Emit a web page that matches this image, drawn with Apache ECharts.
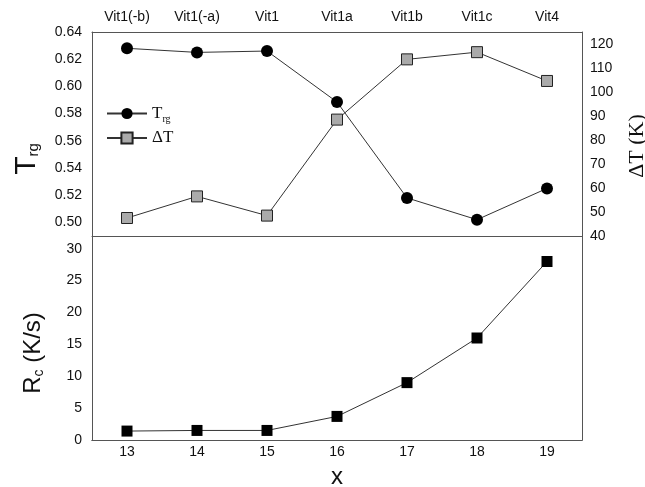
<!DOCTYPE html>
<html>
<head>
<meta charset="utf-8">
<script src="https://cdn.jsdelivr.net/npm/echarts@6/dist/echarts.min.js"></script>
<style>
  html, body { margin: 0; padding: 0; background: #fff; }
  #chart { width: 645px; height: 487px; }
</style>
</head>
<body>
<div id="chart"></div>
<script>
// categories and values
var xValues = ['13', '14', '15', '16', '17', '18', '19'];
var alloyNames = ['Vit1(-b)', 'Vit1(-a)', 'Vit1', 'Vit1a', 'Vit1b', 'Vit1c', 'Vit4'];
var trg = [0.628, 0.625, 0.626, 0.5885, 0.518, 0.502, 0.525];
var deltaT = [47.5, 56.5, 48.5, 88.5, 113.6, 116.6, 104.6];
var rc = [1.4, 1.5, 1.5, 3.7, 9.0, 16.0, 28.0];

var sans = 'Liberation Sans, Arial, sans-serif';
var serif = 'Liberation Serif, Times New Roman, serif';
var axisCol = '#555';
var lineCol = '#333';

function axisLine() { return { show: true, lineStyle: { color: axisCol, width: 1 } }; }

var chart = echarts.init(document.getElementById('chart'));
var option = {
  backgroundColor: '#fff',
  animation: false,
  grid: [
    { left: 92, right: 63, top: 32, height: 204, outerBoundsMode: 'none' },
    { left: 92, right: 63, top: 236, height: 204, outerBoundsMode: 'none' }
  ],
  legend: {
    left: 106, top: 105, orient: 'vertical', padding: 0,
    itemWidth: 40, itemHeight: 14, itemGap: 5,
    data: ['Trg', 'dT'],
    formatter: function (n) { return n === 'Trg' ? '{t|T}{s|rg}' : '{t|ΔT}'; },
    textStyle: {
      fontFamily: serif, color: '#111',
      rich: {
        t: { fontFamily: serif, fontSize: 17, color: '#111' },
        s: { fontFamily: serif, fontSize: 10, color: '#111', padding: [12, 0, 0, 0] }
      }
    }
  },
  xAxis: [
    { gridIndex: 0, type: 'category', data: xValues, position: 'bottom',
      axisLine: axisLine(), axisLabel: { show: false },
      axisTick: { inside: true, alignWithLabel: true, length: 4, lineStyle: { color: axisCol } } },
    { gridIndex: 0, type: 'category', data: alloyNames, position: 'top',
      axisLine: axisLine(),
      axisLabel: { fontFamily: sans, fontSize: 14, color: '#111', margin: 8 },
      axisTick: { alignWithLabel: true, length: 4, lineStyle: { color: axisCol } } },
    { gridIndex: 1, type: 'category', data: xValues, position: 'bottom',
      axisLine: axisLine(),
      axisLabel: { fontFamily: sans, fontSize: 14, color: '#111', margin: 5 },
      axisTick: { alignWithLabel: true, length: 4, lineStyle: { color: axisCol } },
      name: 'x', nameLocation: 'middle', nameGap: 25,
      nameTextStyle: { fontFamily: sans, fontSize: 24, color: '#111' } },
    { gridIndex: 1, type: 'category', data: xValues, position: 'top',
      axisLine: axisLine(), axisLabel: { show: false },
      axisTick: { inside: true, alignWithLabel: true, length: 4, lineStyle: { color: axisCol } } }
  ],
  yAxis: [
    { gridIndex: 0, type: 'value', position: 'left', min: 0.49, max: 0.64, interval: 0.01,
      axisLine: axisLine(), splitLine: { show: false },
      axisTick: { length: 4, lineStyle: { color: axisCol } },
      axisLabel: { fontFamily: sans, fontSize: 14, color: '#111', margin: 10,
        formatter: function (v) { return Math.round(v * 100) % 2 === 0 ? v.toFixed(2) : ''; } },
      name: '{t|T}{s|rg}', nameLocation: 'middle', nameRotate: 90, nameGap: 50,
      nameTextStyle: { padding: [0, 50, 0, 0],
        rich: { t: { fontFamily: sans, fontSize: 30, color: '#111' },
                s: { fontFamily: sans, fontSize: 15, color: '#111', padding: [14, 0, 0, 0] } } } },
    { gridIndex: 0, type: 'value', position: 'right', min: 40, max: 125, interval: 5,
      axisLine: axisLine(), splitLine: { show: false },
      axisTick: { inside: true, length: 4, lineStyle: { color: axisCol } },
      axisLabel: { fontFamily: sans, fontSize: 14, color: '#111', margin: 8,
        formatter: function (v) { return v % 10 === 0 ? String(v) : ''; } },
      name: 'ΔT (K)', nameLocation: 'middle', nameRotate: 90, nameGap: 44,
      nameTextStyle: { fontFamily: serif, fontSize: 22, color: '#111', padding: [0, 24, 0, 0] } },
    { gridIndex: 1, type: 'value', position: 'left', min: 0, max: 32, interval: 2.5,
      axisLine: axisLine(), splitLine: { show: false },
      axisTick: { length: 4, lineStyle: { color: axisCol } },
      axisLabel: { fontFamily: sans, fontSize: 14, color: '#111', margin: 10,
        formatter: function (v) { return (v % 5 === 0 && v <= 30) ? String(v) : ''; } },
      name: '{t|R}{s|c}{t| (K/s)}', nameLocation: 'middle', nameRotate: 90, nameGap: 46,
      nameTextStyle: { padding: [0, 30, 0, 0],
        rich: { t: { fontFamily: sans, fontSize: 24, color: '#111' },
                s: { fontFamily: sans, fontSize: 14, color: '#111', padding: [12, 0, 0, 0] } } } },
    { gridIndex: 1, type: 'value', position: 'right', min: 0, max: 32, interval: 2.5,
      axisLine: axisLine(), splitLine: { show: false },
      axisTick: { inside: true, length: 4, lineStyle: { color: axisCol } },
      axisLabel: { show: false } }
  ],
  series: [
    { name: 'Trg', type: 'line', xAxisIndex: 0, yAxisIndex: 0, data: trg,
      symbol: 'circle', symbolSize: 12,
      itemStyle: { color: '#000' }, lineStyle: { color: lineCol, width: 1 } },
    { name: 'dT', type: 'line', xAxisIndex: 0, yAxisIndex: 1, data: deltaT,
      symbol: 'rect', symbolSize: 11,
      itemStyle: { color: '#aaa', borderColor: '#222', borderWidth: 1 },
      lineStyle: { color: lineCol, width: 1 } },
    { name: 'Rc', type: 'line', xAxisIndex: 2, yAxisIndex: 2, data: rc,
      symbol: 'rect', symbolSize: 11,
      itemStyle: { color: '#000' }, lineStyle: { color: lineCol, width: 1 } }
  ]
};
chart.setOption(option);
</script>
</body>
</html>
